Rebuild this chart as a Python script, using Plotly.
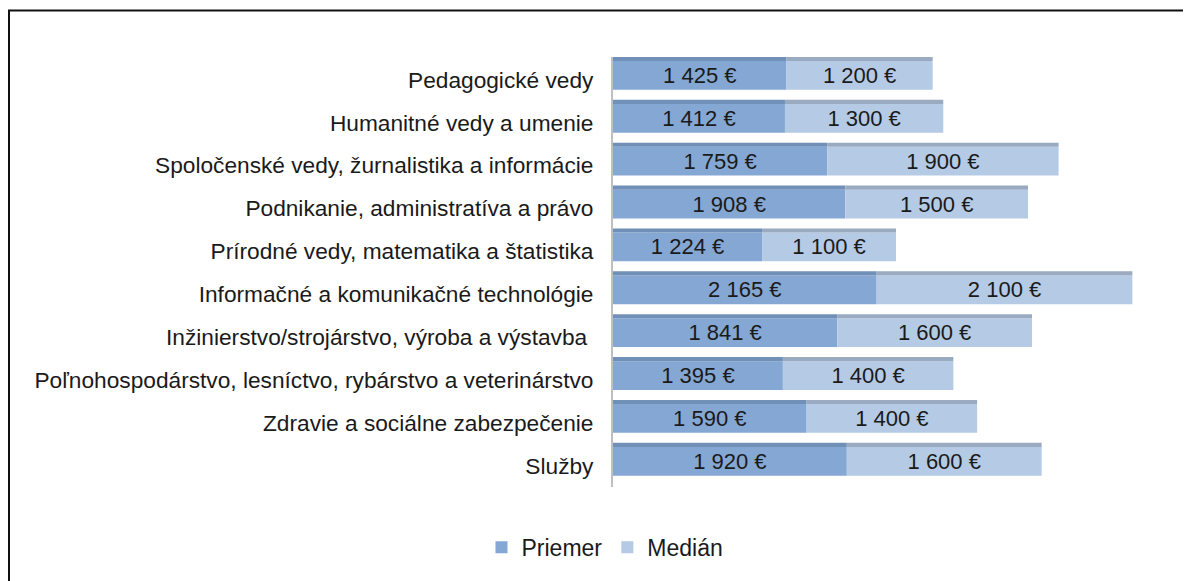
import plotly.graph_objects as go

categories = [
    "Pedagogické vedy",
    "Humanitné vedy a umenie",
    "Spoločenské vedy, žurnalistika a informácie",
    "Podnikanie, administratíva a právo",
    "Prírodné vedy, matematika a štatistika",
    "Informačné a komunikačné technológie",
    "Inžinierstvo/strojárstvo, výroba a výstavba ",
    "Poľnohospodárstvo, lesníctvo, rybárstvo a veterinárstvo",
    "Zdravie a sociálne zabezpečenie",
    "Služby",
]
priemer = [1425, 1412, 1759, 1908, 1224, 2165, 1841, 1395, 1590, 1920]
median = [1200, 1300, 1900, 1500, 1100, 2100, 1600, 1400, 1400, 1600]

def fmt(v):
    return f"{v:,}".replace(",", " ") + " €"

FONT = "Liberation Sans"
C_PRI = "#85A7D3"
C_MED = "#B5CAE5"
C_PRI_TOP = "#7090B8"
C_MED_TOP = "#9AAAC0"

OFF = 8  # page body margin
W, H = 1191 - OFF, 581 - OFF
# plot area in screen pixels
SL, SR, ST, SB = 613, 1161, 56.5, 487.5
L, R, T, B = SL - OFF, (1191 - SR), ST - OFF, (581 - SB)
pw, ph = W - L - R, H - T - B

TOP_OFF, TOP_W = -0.53, 0.095
MAIN_OFF, MAIN_W = TOP_OFF + TOP_W, 0.67

fig = go.Figure()
fig.add_trace(go.Bar(
    y=categories, x=priemer, base=[0] * len(priemer), orientation="h",
    name="Priemer", marker=dict(color=C_PRI, line=dict(width=0)),
    width=MAIN_W, offset=MAIN_OFF,
    text=[fmt(v) for v in priemer], textposition="inside", insidetextanchor="middle",
    constraintext="none",
    textfont=dict(family=FONT, size=22, color="#1a1a1a"),
    hoverinfo="skip",
))
fig.add_trace(go.Bar(
    y=categories, x=median, base=priemer, orientation="h",
    name="Medián", marker=dict(color=C_MED, line=dict(width=0)),
    width=MAIN_W, offset=MAIN_OFF,
    text=[fmt(v) for v in median], textposition="inside", insidetextanchor="middle",
    constraintext="none",
    textfont=dict(family=FONT, size=22, color="#1a1a1a"),
    hoverinfo="skip",
))
fig.add_trace(go.Bar(
    y=categories, x=priemer, base=[0] * len(priemer), orientation="h",
    marker=dict(color=C_PRI_TOP, line=dict(width=0)),
    width=TOP_W, offset=TOP_OFF, showlegend=False, hoverinfo="skip",
))
fig.add_trace(go.Bar(
    y=categories, x=median, base=priemer, orientation="h",
    marker=dict(color=C_MED_TOP, line=dict(width=0)),
    width=TOP_W, offset=TOP_OFF, showlegend=False, hoverinfo="skip",
))

def px(x):
    return (x - SL) / pw

def py(y):
    return (SB - y) / ph

shapes = [
    dict(type="line", xref="paper", yref="paper", x0=px(9), x1=px(9), y0=py(10), y1=py(600),
         line=dict(color="#111", width=2)),
    dict(type="line", xref="paper", yref="paper", x0=px(8), x1=px(1300), y0=py(10), y1=py(10),
         line=dict(color="#111", width=2)),
]

fig.update_layout(
    width=W, height=H,
    margin=dict(l=L, r=R, t=T, b=B, autoexpand=False),
    paper_bgcolor="white", plot_bgcolor="white",
    barmode="overlay",
    font=dict(family=FONT, size=22, color="#1a1a1a"),
    showlegend=True,
    legend=dict(orientation="h", x=px(605), xanchor="center", y=py(548), yanchor="middle",
                font=dict(family=FONT, size=23, color="#1a1a1a"), traceorder="normal",
                itemwidth=30),
    xaxis=dict(range=[0, 4500], showgrid=False, showticklabels=False, zeroline=False,
               showline=False, fixedrange=True),
    yaxis=dict(autorange="reversed", showgrid=False, showline=True, linecolor="#BFBFBF",
               linewidth=2, ticks="", ticklabelstandoff=13,
               tickfont=dict(family=FONT, size=22.7, color="#1a1a1a")),
    shapes=shapes,
)

fig.write_html("out.html")
